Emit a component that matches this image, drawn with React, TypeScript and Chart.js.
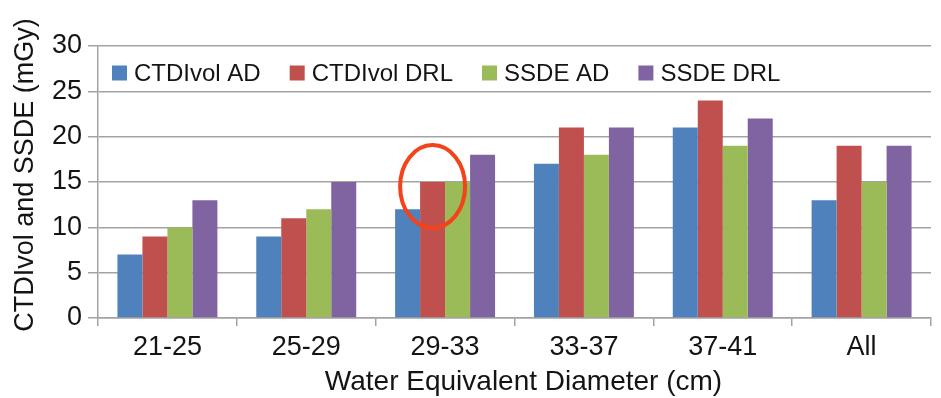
import React, { useEffect, useRef } from "react";
import { Chart, registerables } from "chart.js";

Chart.register(...registerables);

const categories = ["21-25", "25-29", "29-33", "33-37", "37-41", "All"];
const seriesNames = ["CTDIvol AD", "CTDIvol DRL", "SSDE AD", "SSDE DRL"];
const ctdiAD = [7, 9, 12, 17, 21, 13];
const ctdiDRL = [9, 11, 15, 21, 24, 19];
const ssdeAD = [10, 12, 15, 18, 19, 15];
const ssdeDRL = [13, 15, 18, 21, 22, 19];
const seriesColors = ["#4F81BD", "#C0504D", "#9BBB59", "#8064A2"];
const yTicks = [0, 5, 10, 15, 20, 25, 30];
const xTitle = "Water Equivalent Diameter (cm)";
const yTitle = "CTDIvol and SSDE (mGy)";

// bar that gets circled: series index and category
const highlightSeries = 1;
const highlightCategory = "29-33";

const FONT = "'Liberation Sans', Arial, Helvetica, sans-serif";
const GRID = "#a3a3a3";
const TEXT = "#141414";

const legendPlugin = {
  id: "insideLegend",
  afterDraw(chart: any) {
    const { ctx, chartArea } = chart;
    ctx.save();
    ctx.font = `24px ${FONT}`;
    ctx.textBaseline = "middle";
    let x = chartArea.left + 14;
    const y = chartArea.top + 27;
    chart.data.datasets.forEach((ds: any) => {
      ctx.fillStyle = ds.backgroundColor;
      ctx.fillRect(x, y - 7.5, 15, 15);
      ctx.fillStyle = TEXT;
      ctx.fillText(ds.label, x + 22, y + 1);
      x += 22 + ctx.measureText(ds.label).width + 29;
    });
    ctx.restore();
  },
};

// axis titles, placed a little off the plot centre
const titlesPlugin = {
  id: "axisTitles",
  afterDraw(chart: any) {
    const { ctx, chartArea } = chart;
    ctx.save();
    ctx.fillStyle = TEXT;
    ctx.textAlign = "center";
    ctx.textBaseline = "alphabetic";
    ctx.font = `28px ${FONT}`;
    ctx.fillText(xTitle, (chartArea.left + chartArea.right) / 2 + 9, chart.height - 8);
    ctx.font = `27px ${FONT}`;
    ctx.translate(33, (chartArea.top + chartArea.bottom) / 2 - 7);
    ctx.rotate(-Math.PI / 2);
    ctx.fillText(yTitle, 0, 0);
    ctx.restore();
  },
};

const ellipsePlugin = {
  id: "highlightEllipse",
  afterDatasetsDraw(chart: any) {
    const idx = chart.data.labels.indexOf(highlightCategory);
    const el = chart.getDatasetMeta(highlightSeries).data[idx];
    if (!el) return;
    const w = el.width;
    const { ctx } = chart;
    ctx.save();
    ctx.strokeStyle = "#F2431B";
    ctx.lineWidth = 4;
    ctx.beginPath();
    ctx.ellipse(el.x, el.y + w * 0.18, w * 1.3, w * 1.66, 0, 0, Math.PI * 2);
    ctx.stroke();
    ctx.restore();
  },
};

export default function App() {
  const ref = useRef<HTMLCanvasElement | null>(null);

  useEffect(() => {
    if (!ref.current) return;
    const values = [ctdiAD, ctdiDRL, ssdeAD, ssdeDRL];
    const chart = new Chart(ref.current, {
      type: "bar",
      data: {
        labels: categories,
        datasets: seriesNames.map((name, i) => ({
          label: name,
          data: values[i],
          backgroundColor: seriesColors[i],
          borderWidth: 0,
          categoryPercentage: 0.72,
          barPercentage: 1.0,
        })),
      },
      options: {
        responsive: false,
        animation: false,
        layout: { padding: { top: 46, right: 10, left: 0, bottom: 0 } },
        plugins: {
          legend: { display: false },
          tooltip: { enabled: false },
        },
        scales: {
          x: {
            grid: {
              drawOnChartArea: false,
              drawTicks: true,
              tickLength: 8,
              color: GRID,
              lineWidth: 1.5,
            },
            border: { color: GRID, width: 1.5 },
            ticks: { font: { family: FONT, size: 27 }, color: TEXT, padding: 5 },
            afterFit: (s: any) => {
              s.height = 80;
            },
          },
          y: {
            min: 0,
            max: 30,
            afterBuildTicks: (s: any) => {
              s.ticks = yTicks.map((v) => ({ value: v }));
            },
            grid: { color: GRID, lineWidth: 1.5, tickLength: 10 },
            border: { color: GRID, width: 1.5 },
            ticks: { font: { family: FONT, size: 27 }, color: TEXT, padding: 6 },
            afterFit: (s: any) => {
              s.width = 98;
            },
          },
        },
      },
      plugins: [legendPlugin, ellipsePlugin, titlesPlugin],
    });
    return () => chart.destroy();
  }, []);

  return (
    <div style={{ position: "absolute", left: 0, top: 0, width: 941, height: 398, background: "#fff" }}>
      <canvas ref={ref} width={941} height={398} />
    </div>
  );
}
